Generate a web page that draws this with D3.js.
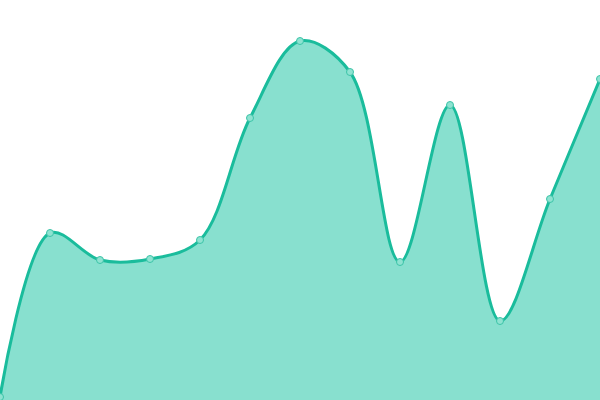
<!DOCTYPE html>
<html>
<head>
<meta charset="utf-8">
<script src="https://cdn.jsdelivr.net/npm/d3@7"></script>
<style>
html,body{margin:0;padding:0;background:#fff;overflow:hidden}
svg{display:block}
</style>
</head>
<body>
<svg id="chart" width="600" height="400"></svg>
<script>
const categories = [0,1,2,3,4,5,6,7,8,9,10,11,12];
const values = [3, 167, 140, 141, 160, 282, 359, 328, 138, 295, 79, 201, 321];

const W = 600, H = 400;
const svg = d3.select("#chart");
const x = d3.scaleLinear().domain([0, categories.length - 1]).range([0, W]);
const y = d3.scaleLinear().domain([0, 400]).range([H, 0]);

const data = categories.map((c, i) => ({c, v: values[i]}));
const curve = d3.curveCatmullRom.alpha(0.5);

svg.append("path")
  .datum(data)
  .attr("fill", "#88e0cf")
  .attr("d", d3.area().x(d => x(d.c)).y0(H).y1(d => y(d.v)).curve(curve));

svg.append("path")
  .datum(data)
  .attr("fill", "none")
  .attr("stroke", "#1abc9c")
  .attr("stroke-width", 3)
  .attr("d", d3.line().x(d => x(d.c)).y(d => y(d.v)).curve(curve));

svg.selectAll("circle")
  .data(data)
  .join("circle")
  .attr("cx", d => x(d.c))
  .attr("cy", d => y(d.v))
  .attr("r", 3.5)
  .attr("fill", "#8ee3d1")
  .attr("stroke", "#3cc4a8")
  .attr("stroke-width", 1);
</script>
</body>
</html>
